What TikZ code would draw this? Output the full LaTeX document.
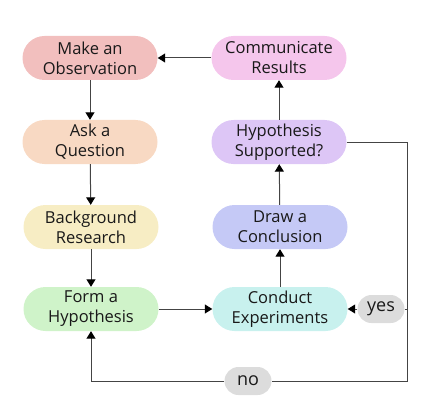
\documentclass[tikz,border=0pt]{standalone}
\usepackage{fontspec}
\setmainfont{Open Sans}
\usetikzlibrary{arrows.meta}

\definecolor{obscol}{HTML}{F2BFBE}
\definecolor{askcol}{HTML}{F8D9C3}
\definecolor{bgcol}{HTML}{F7EDC4}
\definecolor{formcol}{HTML}{CFF3C9}
\definecolor{expcol}{HTML}{C8F1EE}
\definecolor{drawcol}{HTML}{C5C9F6}
\definecolor{suppcol}{HTML}{DDC6F6}
\definecolor{commcol}{HTML}{F5C6EC}
\definecolor{tagcol}{HTML}{DCDCDC}
\definecolor{linecol}{HTML}{444444}

\begin{document}
\begin{tikzpicture}[x=1pt,y=-1pt,
	step box/.style={rounded corners=22pt, minimum width=135pt, minimum height=44pt,
		align=center, inner sep=0pt, font=\fontsize{16.5}{20}\selectfont, text=black!90},
	tag box/.style={fill=tagcol, rounded corners=14pt, minimum width=47pt, minimum height=28pt,
		inner sep=0pt, font=\fontsize{18}{20}\selectfont, text=black!90},
	flow/.style={draw=linecol, line width=1pt},
	arr/.style={flow, -{Triangle[width=9pt,length=7.5pt,color=black]}}]

% bounding box %{{{2

	\useasboundingbox (0,0) rectangle (443,414);

% steps %{{{2

	\node[step box, fill=obscol] (obs) at (90,58) {Make an\\Observation};
	\node[step box, fill=askcol] (ask) at (90,142) {Ask a\\Question};
	\node[step box, fill=bgcol] (bg) at (91,227) {Background\\Research};
	\node[step box, fill=formcol] (form) at (91,309) {Form a\\Hypothesis};
	\node[step box, fill=expcol] (exp) at (280,309) {Conduct\\Experiments};
	\node[step box, fill=drawcol] (concl) at (280,227) {Draw a\\Conclusion};
	\node[step box, fill=suppcol] (supp) at (279,142) {Hypothesis\\Supported?};
	\node[step box, fill=commcol] (comm) at (279,58) {Communicate\\Results};

% answers %{{{2

	\node[tag box] (yes) at (381,309) {yes};
	\node[tag box] (no) at (248,381) {no};

	\coordinate (rtop) at (407,142);
	\coordinate (rbot) at (407,381);

% arrows %{{{2

	\draw[arr] (obs) -- (ask);
	\draw[arr] (ask) -- (bg);
	\draw[arr] (bg) -- (form);
	\draw[arr] (form) -- (exp);
	\draw[arr] (exp) -- (concl);
	\draw[arr] (concl) -- (supp);
	\draw[arr] (supp) -- (comm);
	\draw[arr] (comm) -- (obs);

% loop back %{{{2

	\draw[flow] (supp.east) -- (rtop) -- (rbot) -- (no.east);
	\draw[flow] (yes.east) -- (yes.east -| rtop);
	\draw[arr] (yes.west) -- (exp.east);
	\draw[arr] (no.west) -| (form.south);

\end{tikzpicture}
\end{document}
